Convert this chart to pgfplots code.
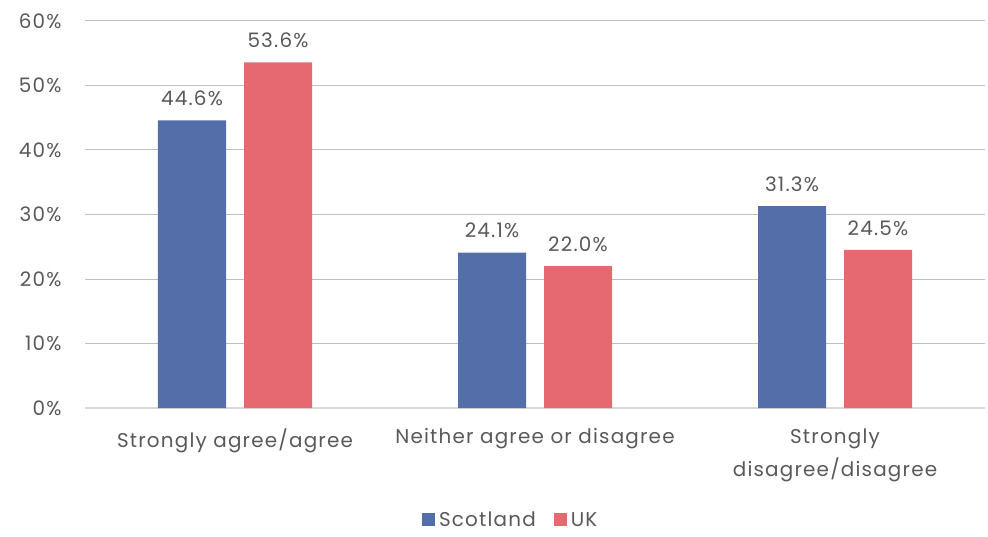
\documentclass[border=0pt]{standalone}
\usepackage{pgfplots}
\pgfplotsset{compat=1.18}
\usepackage{fontspec}
\setmainfont[LetterSpace=6]{Poppins}
\definecolor{scot}{HTML}{536EA8}
\definecolor{uk}{HTML}{E66870}
\definecolor{txt}{HTML}{595959}
\definecolor{grid}{HTML}{D9D9D9}
\begin{document}
\begin{tikzpicture}[x=1bp,y=1bp]
\begin{axis}[
  at={(0,0)}, anchor=south west,
  scale only axis,
  width=900bp, height=387bp,
  xmin=-0.5, xmax=2.5,
  ymin=0, ymax=60,
  ybar=18bp, bar width=68bp,
  xtick={0,1,2},
  xticklabels={Strongly agree/agree, Neither agree or disagree, {Strongly\\[7bp]disagree/disagree}},
  ytick={0,10,...,60},
  yticklabel={\pgfmathprintnumber{\tick}\%},
  /pgf/number format/assume math mode=true,
  ymajorgrids, xmajorgrids=false,
  grid style={grid, line width=1bp},
  axis x line*=bottom,
  axis y line*=left,
  y axis line style={draw=none},
  x axis line style={grid, line width=1.2bp},
  major tick length=0pt,
  tick style={draw=none},
  xticklabel style={font=\fontsize{20}{26}\selectfont, text=txt, align=center, yshift=-17bp},
  yticklabel style={font=\fontsize{20}{24}\selectfont, text=txt, xshift=-20bp},
  nodes near coords={\pgfmathprintnumber[fixed,fixed zerofill,precision=1]{\pgfplotspointmeta}\%},
  nodes near coords style={font=\fontsize{20}{24}\selectfont, text=txt, anchor=south, yshift=11bp},
  legend style={at={(0.473,-0.289)}, anchor=center, draw=none, legend columns=-1,
    font=\fontsize{20}{24}\selectfont, text=txt,
    /tikz/every even column/.append style={column sep=16bp},
    /tikz/every odd column/.append style={column sep=2bp}},
  legend image code/.code={\fill (0bp,-6bp) rectangle (13bp,7bp);},
  clip=false,
]
\addplot[fill=scot, draw=none] coordinates {(0,44.6) (1,24.1) (2,31.3)};
\addplot[fill=uk, draw=none] coordinates {(0,53.6) (1,22.0) (2,24.5)};
\legend{Scotland, UK}
\end{axis}
\pgfresetboundingbox
\useasboundingbox (-85bp,-129bp) rectangle (903bp,408bp);
\end{tikzpicture}
\end{document}
